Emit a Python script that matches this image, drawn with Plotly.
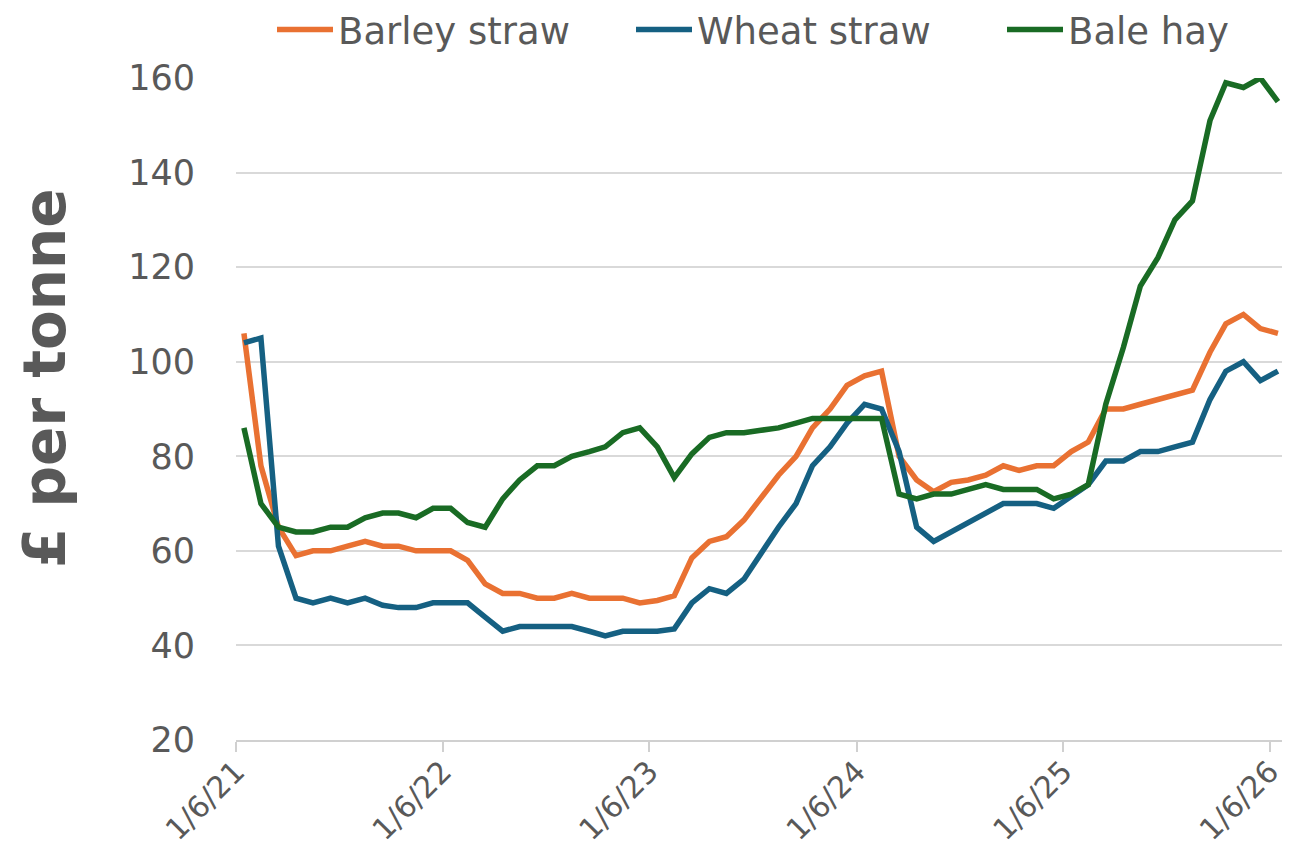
import pandas as pd
import plotly.graph_objects as go

# Monthly observations, June 2021 - June 2026 (£ per tonne)
barley_straw = [106, 78, 65, 59, 60, 60, 61, 62, 61, 61, 60, 60, 60, 58, 53, 51, 51, 50, 50, 51,
                50, 50, 50, 49, 49.5, 50.5, 58.5, 62, 63, 66.5, 71, 76, 80, 86, 90, 95, 97, 98,
                80, 75, 72.5, 74.5, 75, 76, 78, 77, 78, 78, 81, 83, 90, 90, 91, 92, 93, 94,
                102, 108, 110, 107, 106]
wheat_straw = [104, 105, 61, 50, 49, 50, 49, 50, 48.5, 48, 48, 49, 49, 49, 46, 43, 44, 44, 44, 44,
               43, 42, 43, 43, 43, 43.5, 49, 52, 51, 54, 59.5, 65, 70, 78, 82, 87, 91, 90,
               81, 65, 62, 64, 66, 68, 70, 70, 70, 69, 71.5, 74, 79, 79, 81, 81, 82, 83,
               92, 98, 100, 96, 98]
bale_hay = [86, 70, 65, 64, 64, 65, 65, 67, 68, 68, 67, 69, 69, 66, 65, 71, 75, 78, 78, 80,
            81, 82, 85, 86, 82, 75.5, 80.5, 84, 85, 85, 85.5, 86, 87, 88, 88, 88, 88, 88,
            72, 71, 72, 72, 73, 74, 73, 73, 73, 71, 72, 74, 91, 103, 116, 122, 130, 134,
            151, 159, 158, 160, 155]

series_names = ["Barley straw", "Wheat straw", "Bale hay"]
series_values = [barley_straw, wheat_straw, bale_hay]
series_colors = ["#E97132", "#156082", "#196B24"]

dates = pd.date_range("2021-06-01", periods=len(barley_straw), freq="MS") + pd.Timedelta(days=14)

tick_dates = ["2021-06-01", "2022-06-01", "2023-06-01", "2024-06-01", "2025-06-01", "2026-06-01"]
tick_labels = ["1/6/21", "1/6/22", "1/6/23", "1/6/24", "1/6/25", "1/6/26"]
y_ticks = [20, 40, 60, 80, 100, 120, 140, 160]

FONT = "'DejaVu Sans', sans-serif"
GREY = "#595959"

# page body has an 8px default margin, so the figure is sized to fit the 1290x846 window
W, H = 1282, 838
legend_ids = ["legend", "legend2", "legend3"]
legend_left = [264, 623, 994]  # left edge of each legend entry, px

fig = go.Figure()
for name, vals, col, lg in zip(series_names, series_values, series_colors, legend_ids):
    fig.add_trace(go.Scatter(x=dates, y=vals, name=name, mode="lines", legend=lg,
                             line=dict(color=col, width=5.5)))

legend_style = dict(orientation="h", xanchor="left", xref="container",
                    yref="container", y=1 - 22 / H, yanchor="middle",
                    font=dict(size=37, color=GREY), itemwidth=56,
                    bgcolor="rgba(0,0,0,0)")

fig.update_layout(
    width=W, height=H,
    paper_bgcolor="white", plot_bgcolor="white",
    margin=dict(l=228, r=3, t=70, b=106, autoexpand=False),
    font=dict(family=FONT, color=GREY),
    showlegend=True,
    legend=dict(legend_style, x=legend_left[0] / W),
    legend2=dict(legend_style, x=legend_left[1] / W),
    legend3=dict(legend_style, x=legend_left[2] / W),
    xaxis=dict(type="date", range=["2021-06-01", "2026-07-01"], automargin=False,
               tickmode="array", tickvals=tick_dates, ticktext=tick_labels,
               tickangle=-45, tickfont=dict(size=30, color=GREY), ticklabelstandoff=-10,
               showgrid=False, showline=True, linecolor="#d0d0d0", linewidth=2,
               ticks="outside", ticklen=10, tickcolor="#d0d0d0", tickwidth=1.5,
               zeroline=False),
    yaxis=dict(range=[20, 160], tickmode="array", tickvals=y_ticks, automargin=False,
               tickfont=dict(size=35, color=GREY),
               showgrid=True, gridcolor="#d9d9d9", gridwidth=2,
               showline=False, zeroline=False, ticks="", ticklabelstandoff=40),
    annotations=[dict(text="<b>£ per tonne</b>", textangle=-90, xref="paper", yref="paper",
                      x=0, y=0.5, xanchor="center", yanchor="middle",
                      xshift=-191, yshift=31, showarrow=False,
                      font=dict(size=58, color=GREY, family=FONT))],
)

fig.write_html("out.html")
